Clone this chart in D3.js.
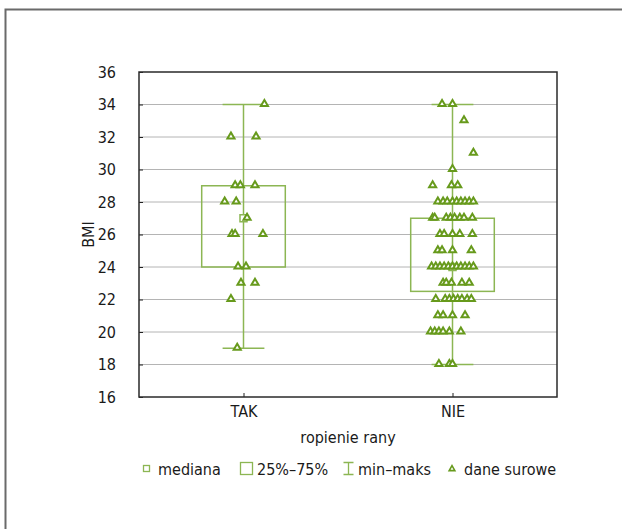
<!DOCTYPE html>
<html>
<head>
<meta charset="utf-8">
<script src="https://cdn.jsdelivr.net/npm/d3@7"></script>
<style>
  body { margin: 0; background: #fff; }
  svg text { font-family: "DejaVu Sans Condensed", "DejaVu Sans", sans-serif; font-stretch: condensed; fill: #1a1a1a; }
</style>
</head>
<body>
<div id="chart"></div>
<script>
// Data
//////////////////////////////////////////////////////////////////////
const categories = ["TAK", "NIE"];
const yTicks = [16, 18, 20, 22, 24, 26, 28, 30, 32, 34, 36];
// box stats: q1, median, q3, min, max
const boxQ1 = [24, 22.5];
const boxMedian = [27, 24];
const boxQ3 = [29, 27];
const boxMin = [19, 18];
const boxMax = [34, 34];
// raw data (BMI), jitter in category units
const rawTAK = [34, 32, 32, 29, 29, 29, 28, 28, 27, 26, 26, 26, 24, 24, 23, 23, 22, 19];
const jitTAK = [0.10, -0.06, 0.06, -0.04, -0.015, 0.055, -0.09, -0.035, 0.017, -0.055, -0.04, 0.093, -0.026, 0.012, -0.012, 0.055, -0.06, -0.03];
const rawNIE = [34, 34, 33, 31, 30, 29, 29, 29,
  28, 28, 28, 28, 28, 28, 28, 28, 28,
  27, 27, 27, 27, 27, 27, 27, 27,
  26, 26, 26, 26, 26, 25, 25, 25, 25,
  24, 24, 24, 24, 24, 24, 24, 24, 24, 24, 24,
  23, 23, 23, 23, 23,
  22, 22, 22, 22, 22, 22, 22, 22,
  21, 21, 21, 21,
  20, 20, 20, 20, 20, 20,
  18, 18, 18];
const jitNIE = [-0.05, 0.0, 0.055, 0.10, 0.0, -0.095, -0.005, 0.025,
  -0.07, -0.045, -0.025, 0.0, 0.02, 0.04, 0.06, 0.08, 0.10,
  -0.095, -0.085, -0.03, -0.01, 0.01, 0.035, 0.055, 0.095,
  -0.06, -0.04, 0.0, 0.035, 0.095, -0.07, -0.05, 0.0, 0.09,
  -0.10, -0.08, -0.06, -0.04, -0.02, 0.0, 0.02, 0.04, 0.06, 0.08, 0.10,
  -0.045, -0.03, -0.005, 0.045, 0.08,
  -0.08, -0.035, -0.015, 0.005, 0.025, 0.045, 0.07, 0.09,
  -0.07, -0.045, 0.0, 0.06,
  -0.105, -0.085, -0.065, -0.045, -0.015, 0.04,
  -0.065, -0.015, 0.0];
const rawValues = [rawTAK, rawNIE];
const rawJitter = [jitTAK, jitNIE];
const legendLabels = ["mediana", "25%\u201375%", "min\u2013maks", "dane surowe"];

// Variables
//////////////////////////////////////////////////////////////////////
const width = 622, height = 529;
const margin = { top: 72, right: 65, bottom: 132, left: 139 };
const fontSize = 16;
const boxColor = "#8cb653";
const pointColor = "#679a1c";
const gridColor = "#b4b4b4";

const svg = d3.select("#chart").append("svg")
  .attr("width", width)
  .attr("height", height);

// outer frame
svg.append("rect")
  .attr("x", 5.5).attr("y", 9.5)
  .attr("width", 650).attr("height", 560)
  .attr("fill", "none")
  .attr("stroke", "#6a6a6a")
  .attr("stroke-width", 2);

const x = d3.scaleLinear([-0.5, 1.5], [margin.left, width - margin.right]);
const y = d3.scaleLinear([16, 36], [height - margin.bottom, margin.top]);

// grid
svg.append("g")
  .selectAll("line")
  .data(yTicks.slice(1, -1))
  .join("line")
  .attr("x1", x(-0.5)).attr("x2", x(1.5))
  .attr("y1", d => y(d)).attr("y2", d => y(d))
  .attr("stroke", gridColor)
  .attr("stroke-width", 1);

// y axis
const yAxis = svg.append("g")
  .attr("transform", `translate(${x(-0.5)},0)`)
  .call(d3.axisLeft(y).tickValues(yTicks).tickSize(-4).tickPadding(23).tickFormat(d3.format("d")));
yAxis.select(".domain").remove();
yAxis.selectAll(".tick line").attr("stroke", "#222");
yAxis.selectAll("text").attr("font-size", fontSize).attr("fill", "#1a1a1a");

// x axis
const xAxis = svg.append("g")
  .attr("transform", `translate(0,${y(16)})`)
  .call(d3.axisBottom(x).tickValues([0, 1]).tickSize(-4).tickPadding(9).tickFormat(i => categories[i]));
xAxis.select(".domain").remove();
xAxis.selectAll(".tick line").attr("stroke", "#222");
xAxis.selectAll("text").attr("font-size", fontSize).attr("fill", "#1a1a1a");

// frame of plot
svg.append("rect")
  .attr("x", x(-0.5)).attr("y", y(36))
  .attr("width", x(1.5) - x(-0.5)).attr("height", y(16) - y(36))
  .attr("fill", "none")
  .attr("stroke", "#2a2a2a")
  .attr("stroke-width", 1.5);

// axis titles
svg.append("text")
  .attr("transform", `translate(94,${(y(16) + y(36)) / 2}) rotate(-90)`)
  .attr("text-anchor", "middle")
  .attr("font-size", fontSize)
  .text("BMI");
svg.append("text")
  .attr("x", (x(-0.5) + x(1.5)) / 2)
  .attr("y", 443)
  .attr("text-anchor", "middle")
  .attr("font-size", fontSize)
  .text("ropienie rany");

// boxes
const boxHalf = 0.2, capHalf = 0.1;
const boxes = svg.append("g")
  .attr("fill", "none")
  .attr("stroke", boxColor)
  .attr("stroke-width", 1.5)
  .selectAll("g")
  .data(categories.map((c, i) => i))
  .join("g");
boxes.append("line")
  .attr("x1", i => x(i)).attr("x2", i => x(i))
  .attr("y1", i => y(boxMin[i])).attr("y2", i => y(boxMax[i]));
boxes.append("line")
  .attr("x1", i => x(i - capHalf)).attr("x2", i => x(i + capHalf))
  .attr("y1", i => y(boxMax[i])).attr("y2", i => y(boxMax[i]));
boxes.append("line")
  .attr("x1", i => x(i - capHalf)).attr("x2", i => x(i + capHalf))
  .attr("y1", i => y(boxMin[i])).attr("y2", i => y(boxMin[i]));
boxes.append("rect")
  .attr("x", i => x(i - boxHalf)).attr("width", i => x(i + boxHalf) - x(i - boxHalf))
  .attr("y", i => y(boxQ3[i])).attr("height", i => y(boxQ1[i]) - y(boxQ3[i]))
  .attr("fill", "none");
boxes.append("rect")
  .attr("x", i => x(i) - 3.5).attr("y", i => y(boxMedian[i]) - 3.5)
  .attr("width", 7).attr("height", 7)
  .attr("fill", "#fff");

// raw points
const tri = d3.symbol().type(d3.symbolTriangle).size(22);
const points = categories.flatMap((c, i) => rawValues[i].map((v, k) => ({ i, v, j: rawJitter[i][k] })));
svg.append("g")
  .selectAll("path")
  .data(points)
  .join("path")
  .attr("d", tri)
  .attr("transform", d => `translate(${x(d.i + d.j)},${y(d.v) - 0.5})`)
  .attr("fill", "#fff")
  .attr("stroke", pointColor)
  .attr("stroke-width", 2);

// legend
const lg = svg.append("g").attr("font-size", fontSize);
const ly = 469;
lg.append("rect").attr("x", 143.5).attr("y", ly - 3.5).attr("width", 6).attr("height", 6)
  .attr("fill", "#fff").attr("stroke", boxColor).attr("stroke-width", 1.3);
lg.append("text").attr("x", 158).attr("y", ly + 5.5).text(legendLabels[0]);
lg.append("rect").attr("x", 240.5).attr("y", ly - 6.5).attr("width", 12).attr("height", 12)
  .attr("fill", "none").attr("stroke", boxColor).attr("stroke-width", 1.3);
lg.append("text").attr("x", 257).attr("y", ly + 5.5).text(legendLabels[1]);
lg.append("path").attr("d", `M343.5,${ly - 6.5}H353.5M348.5,${ly - 6.5}V${ly + 5.5}M343.5,${ly + 5.5}H353.5`)
  .attr("fill", "none").attr("stroke", boxColor).attr("stroke-width", 1.3);
lg.append("text").attr("x", 358).attr("y", ly + 5.5).text(legendLabels[2]);
lg.append("path").attr("d", d3.symbol().type(d3.symbolTriangle).size(14))
  .attr("transform", `translate(452,${ly})`)
  .attr("fill", "#fff").attr("stroke", pointColor).attr("stroke-width", 1.6);
lg.append("text").attr("x", 464).attr("y", ly + 5.5).text(legendLabels[3]);
</script>
</body>
</html>
